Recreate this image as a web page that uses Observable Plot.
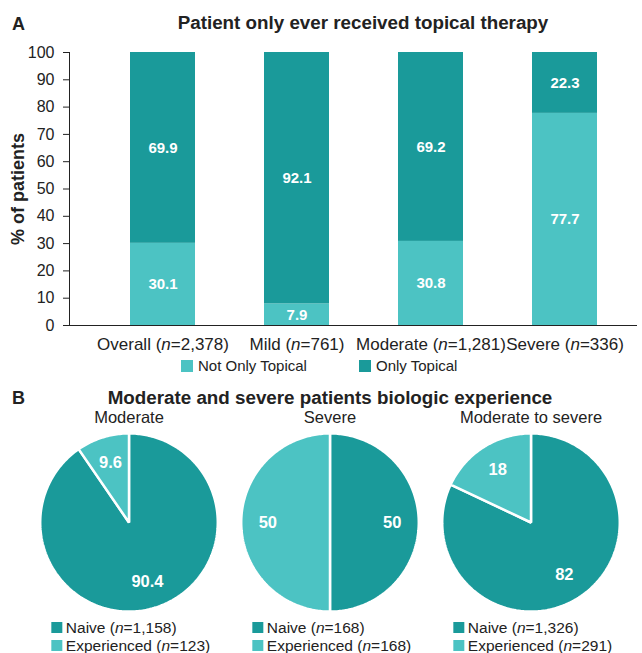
<!DOCTYPE html>
<html>
<head>
<meta charset="utf-8">
<script src="https://cdn.jsdelivr.net/npm/d3@7"></script>
<script src="https://cdn.jsdelivr.net/npm/@observablehq/plot@0.6"></script>
<style>
  body { margin: 0; background: #fff; font-family: "Liberation Sans", Arial, sans-serif; color: #222; }
  #root { position: relative; width: 642px; height: 653px; overflow: hidden; background: #fff; }
  .abs { position: absolute; white-space: nowrap; line-height: 1; }
  .panel { font-weight: bold; font-size: 18px; }
  .title { font-weight: bold; font-size: 18.8px; transform: translateX(-50%); }
  .sw { display: inline-block; width: 12px; height: 12px; vertical-align: middle; margin-right: 5px; position: relative; top: -1px; }
  .leg { font-size: 15px; }
  .pieleg { font-size: 15.5px; transform: translateX(-50%); line-height: 18px; }
  .pieleg .sw { width: 11px; height: 11px; margin-right: 4px; }
  svg { position: absolute; left: 0; overflow: visible; }
</style>
</head>
<body>
<div id="root"></div>
<script>
// ---------- data ----------
const categories = ["Overall", "Mild", "Moderate", "Severe"];
const categoryN = ["2,378", "761", "1,281", "336"];
const notOnlyTopical = [30.1, 7.9, 30.8, 77.7];
const onlyTopical = [69.9, 92.1, 69.2, 22.3];
const barSeries = ["Not Only Topical", "Only Topical"];
const yTicks = [0, 10, 20, 30, 40, 50, 60, 70, 80, 90, 100];

const pieGroups = ["Moderate", "Severe", "Moderate to severe"];
const naivePct = [90.4, 50, 82];
const experiencedPct = [9.6, 50, 18];
const naiveN = ["1,158", "168", "1,326"];
const experiencedN = ["123", "168", "291"];
const pieSeries = ["Naive", "Experienced"];

const DARK = "#1a9a9a";
const LIGHT = "#4cc3c3";
const FONT = '"Liberation Sans", Arial, sans-serif';

const root = document.getElementById("root");

// ---------- Panel A: stacked bars ----------
const barRows = [];
categories.forEach((c, i) => {
  barRows.push({cat: c, type: barSeries[0], value: notOnlyTopical[i]});
  barRows.push({cat: c, type: barSeries[1], value: onlyTopical[i]});
});
const nByCat = new Map(categories.map((c, i) => [c, categoryN[i]]));

const plotA = Plot.plot({
  width: 642,
  height: 356,
  marginTop: 52,
  marginBottom: 31,
  marginLeft: 69,
  marginRight: 5,
  style: {fontFamily: FONT, fontSize: "15px", color: "#222", background: "transparent", overflow: "visible"},
  x: {domain: categories, range: [94.3, 631.7], paddingInner: 0.516, paddingOuter: 0.258, label: null},
  y: {domain: [0, 100], label: null},
  color: {domain: barSeries, range: [LIGHT, DARK]},
  marks: [
    Plot.barY(barRows, {x: "cat", y: "value", fill: "type"}),
    Plot.text(barRows, Plot.stackY({x: "cat", y: "value", text: d => d.value.toFixed(1),
      fill: "white", fontWeight: "bold", fontSize: 15})),
    Plot.axisY({ticks: yTicks, tickSize: 6, tickPadding: 9, fontSize: 16, label: null, stroke: "#222"}),
    Plot.axisX({tickSize: 0, tickPadding: 12, fontSize: 17, label: null,
      tickFormat: c => `${c} (n=${nByCat.get(c)})`}),
    Plot.frame({anchor: "left", stroke: "#222"}),
    Plot.ruleY([0], {stroke: "#222", strokeWidth: 1.2}),
    Plot.text(["% of patients"], {text: d => d, frameAnchor: "left", dx: -51, rotate: -90,
      textAnchor: "middle", fontWeight: "bold", fontSize: 18, fill: "#222"})
  ]
});
plotA.style.top = "0px";
root.appendChild(plotA);

// italic "n" in category labels
d3.select(plotA).selectAll('g[aria-label="x-axis tick label"] text').each(function() {
  const t = this.textContent;
  const m = t.match(/^(.*\()n(=.*)$/);
  if (!m) return;
  const sel = d3.select(this);
  sel.text(null);
  sel.append("tspan").text(m[1]);
  sel.append("tspan").attr("font-style", "italic").text("n");
  sel.append("tspan").text(m[2]);
});

// ---------- Panel B: pies ----------
const pieRows = [];
const pieLabels = [];
pieGroups.forEach((g, i) => {
  const vals = [naivePct[i], experiencedPct[i]];
  const arcs = d3.pie().sort(null)(vals);
  arcs.forEach((a, j) => {
    const key = g + "|" + pieSeries[j];
    pieRows.push({group: g, type: pieSeries[j], key, x: 0, y: 0});
    const n = Math.max(2, Math.ceil((a.endAngle - a.startAngle) / (Math.PI / 180)));
    for (let k = 0; k <= n; k++) {
      const t = a.startAngle + (a.endAngle - a.startAngle) * k / n;
      pieRows.push({group: g, type: pieSeries[j], key, x: Math.sin(t), y: Math.cos(t)});
    }
    const mid = (a.startAngle + a.endAngle) / 2;
    pieLabels.push({group: g, x: 0.7 * Math.sin(mid), y: 0.7 * Math.cos(mid), text: String(vals[j])});
  });
});

const pieTop = 393.5;
const plotB = Plot.plot({
  width: 642,
  height: 30 + 196,
  marginTop: 30,
  marginBottom: 0,
  marginLeft: 27.25,
  marginRight: 10.25,
  style: {fontFamily: FONT, fontSize: "16.5px", color: "#222", background: "transparent", overflow: "visible"},
  fx: {domain: pieGroups, padding: 0, label: null},
  x: {domain: [-1.132, 1.132], axis: null},
  y: {domain: [-1.1, 1.1], axis: null},
  color: {domain: pieSeries, range: [DARK, LIGHT]},
  marks: [
    Plot.line(pieRows, {fx: "group", x: "x", y: "y", z: "key", fill: "type", stroke: "white",
      strokeWidth: 2.5, strokeLinejoin: "miter", curve: "linear-closed"}),
    Plot.text(pieLabels, {fx: "group", x: "x", y: "y", text: "text", fill: "white",
      fontWeight: "bold", fontSize: 16.5}),
    Plot.axisFx({anchor: "top", tickSize: 0, tickPadding: 2, fontSize: 16.5, label: null})
  ]
});
plotB.style.top = pieTop + "px";
root.appendChild(plotB);

// ---------- HTML titles & legends ----------
function addDiv(cls, html, left, top) {
  const d = document.createElement("div");
  d.className = "abs " + cls;
  d.innerHTML = html;
  d.style.left = left + "px";
  d.style.top = top + "px";
  root.appendChild(d);
  return d;
}
addDiv("panel", "A", 12, 15);
addDiv("title", "Patient only ever received topical therapy", 363, 14);
addDiv("panel", "B", 12, 389);
addDiv("title", "Moderate and severe patients biologic experience", 330, 389);

// bar legend
const colorA = plotA.scale("color");
addDiv("leg", `<span class="sw" style="background:${colorA.apply(barSeries[0])}"></span>${barSeries[0]}`, 181, 358);
addDiv("leg", `<span class="sw" style="background:${colorA.apply(barSeries[1])}"></span>${barSeries[1]}`, 359, 358);

// pie legends
const fx = plotB.scale("fx");
const colorB = plotB.scale("color");
pieGroups.forEach((g, i) => {
  const cx = fx.apply(g) + fx.bandwidth / 2 + 2;
  addDiv("pieleg",
    `<div><span class="sw" style="background:${colorB.apply(pieSeries[0])}"></span>${pieSeries[0]} (<i>n</i>=${naiveN[i]})</div>` +
    `<div><span class="sw" style="background:${colorB.apply(pieSeries[1])}"></span>${pieSeries[1]} (<i>n</i>=${experiencedN[i]})</div>`,
    cx, 619);
});
</script>
</body>
</html>
